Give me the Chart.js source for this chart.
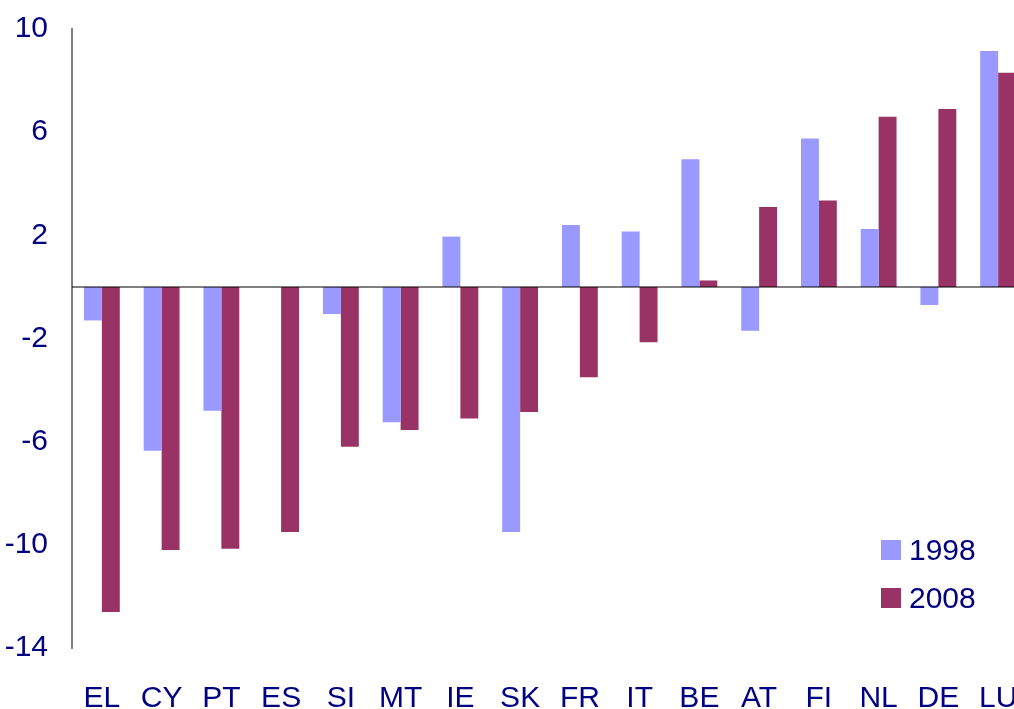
<!DOCTYPE html>
<html>
<head>
<meta charset="utf-8">
<script src="https://cdn.jsdelivr.net/npm/chart.js@4.4.1/dist/chart.umd.min.js"></script>
<style>
    html, body { margin: 0; padding: 0; background: #ffffff; overflow: hidden; }
    #wrap { position: absolute; left: 0; top: 0; width: 1040px; height: 730px; }
    #legend { position: absolute; left: 881px; top: 526px; font-family: 'Liberation Sans', Arial, sans-serif; font-size: 30px; color: #000080; }
    .item { display: flex; align-items: center; height: 48px; }
    .box { width: 20px; height: 20px; margin-right: 8px; }
</style>
</head>
<body>
<div id="wrap"><canvas id="chart" width="1040" height="730"></canvas></div>
<div id="legend"></div>
<script>
const fontFamily = "'Liberation Sans', Arial, sans-serif";
const textColor = '#000080';

// Data
const countries = ['EL', 'CY', 'PT', 'ES', 'SI', 'MT', 'IE', 'SK', 'FR', 'IT', 'BE', 'AT', 'FI', 'NL', 'DE', 'LU'];
const values1998 = [-1.3, -6.35, -4.8, 0, -1.05, -5.25, 1.95, -9.5, 2.4, 2.15, 4.95, -1.7, 5.75, 2.25, -0.7, 9.15];
const values2008 = [-12.6, -10.2, -10.15, -9.5, -6.2, -5.55, -5.1, -4.85, -3.5, -2.15, 0.25, 3.1, 3.35, 6.6, 6.9, 8.3];
const yTicks = [10, 6, 2, -2, -6, -10, -14];

const colors = {
    y1998: '#9999ff',
    y2008: '#993366'
};

// zero line drawn over the bars
const zeroLine = {
    id: 'zeroLine',
    afterDatasetsDraw(chart) {
        const { ctx, chartArea, scales } = chart;
        const y = scales.y.getPixelForValue(0);
        ctx.save();
        ctx.strokeStyle = 'rgba(0, 0, 0, 0.5)';
        ctx.lineWidth = 2;
        ctx.beginPath();
        ctx.moveTo(chartArea.left, y);
        ctx.lineTo(chartArea.right, y);
        ctx.stroke();
        ctx.restore();
    }
};

const ctx = document.getElementById('chart').getContext('2d');
const chart = new Chart(ctx, {
    type: 'bar',
    data: {
        labels: countries,
        datasets: [
            { label: '1998', data: values1998, backgroundColor: colors.y1998, borderWidth: 0 },
            { label: '2008', data: values2008, backgroundColor: colors.y2008, borderWidth: 0 }
        ]
    },
    options: {
        responsive: false,
        animation: false,
        devicePixelRatio: 1,
        layout: { padding: { top: 29, right: 12, bottom: 0, left: 0 } },
        datasets: { bar: { categoryPercentage: 0.6, barPercentage: 1.0 } },
        plugins: {
            legend: { display: false },
            tooltip: { enabled: false }
        },
        scales: {
            x: {
                grid: { display: false },
                border: { display: false },
                ticks: { color: textColor, font: { family: fontFamily, size: 30 }, padding: 25, maxRotation: 0 },
                afterFit(scale) {
                    scale.height = 82;
                    scale.paddingLeft = 0;
                    scale.paddingRight = 0;
                }
            },
            y: {
                min: -14,
                max: 10,
                grid: { display: false, drawTicks: false },
                border: { display: true, color: 'rgba(0, 0, 0, 0.5)', width: 2 },
                ticks: { color: textColor, font: { family: fontFamily, size: 30 }, padding: 24 },
                afterBuildTicks(scale) { scale.ticks = yTicks.map(v => ({ value: v })); },
                afterFit(scale) {
                    scale.width = 72;
                    scale.paddingTop = 0;
                    scale.paddingBottom = 0;
                }
            }
        }
    },
    plugins: [zeroLine]
});

// HTML legend from the datasets
const legendEl = document.getElementById('legend');
chart.data.datasets.forEach(ds => {
    const item = document.createElement('div');
    item.className = 'item';
    const box = document.createElement('span');
    box.className = 'box';
    box.style.background = ds.backgroundColor;
    const txt = document.createElement('span');
    txt.textContent = ds.label;
    item.appendChild(box);
    item.appendChild(txt);
    legendEl.appendChild(item);
});
</script>
</body>
</html>
